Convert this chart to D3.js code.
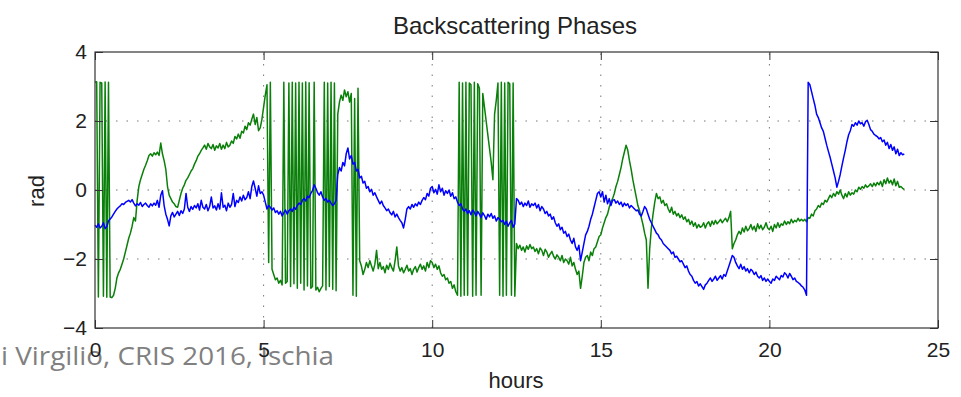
<!DOCTYPE html>
<html><head><meta charset="utf-8">
<script src="https://cdn.jsdelivr.net/npm/d3@7"></script>
<style>body{margin:0;background:#fff}svg{display:block}</style>
</head><body><svg id="c" width="961" height="397"></svg>
<script>
// Phase samples every 0.05 h, from 0 h to 24 h (one row per hour)
const bluePhase = [
-1.02,-1.08,-0.98,-1.10,-1.05,-0.95,-1.12,-1.06,-0.90,-0.84,-0.78,-0.70,-0.62,-0.55,-0.50,-0.46,-0.40,-0.42,-0.36,-0.33,
-0.30,-0.35,-0.28,-0.38,-0.46,-0.40,-0.44,-0.36,-0.48,-0.42,-0.38,-0.45,-0.50,-0.40,-0.46,-0.38,-0.44,-0.30,-0.50,-0.15,
-0.02,-0.45,-0.70,-0.85,-1.04,-0.75,-0.65,-0.78,-0.70,-0.62,-0.74,-0.60,-0.68,-0.55,-0.10,-0.50,-0.62,-0.48,-0.56,-0.45,
-0.52,-0.40,-0.58,-0.30,-0.50,-0.55,-0.42,-0.60,-0.48,-0.20,-0.52,-0.46,-0.58,-0.40,-0.55,-0.08,-0.50,-0.44,-0.60,-0.38,
-0.50,-0.42,-0.10,-0.48,-0.30,-0.36,-0.20,-0.32,-0.15,-0.28,-0.22,-0.05,-0.25,0.10,0.26,0.05,-0.18,0.12,-0.10,-0.05,
-0.15,-0.35,-0.55,-0.45,-0.50,-0.58,-0.52,-0.65,-0.60,-0.70,-0.62,-0.75,-0.66,-0.58,-0.70,-0.60,-0.55,-0.62,-0.50,-0.56,
-0.45,-0.38,-0.42,-0.30,-0.25,-0.32,-0.18,-0.22,-0.10,-0.02,0.15,0.05,-0.08,-0.15,-0.05,-0.20,-0.30,-0.25,-0.35,-0.30,
-0.38,-0.45,-0.40,-0.30,0.45,0.65,0.55,0.80,0.70,1.05,1.22,0.90,1.00,0.75,0.80,0.55,0.60,0.35,0.40,0.20,
0.25,0.05,0.10,-0.05,0.02,-0.15,-0.08,-0.20,-0.30,-0.40,-0.32,-0.45,-0.52,-0.60,-0.55,-0.66,-0.72,-0.62,-0.78,-0.70,
-0.80,-0.88,-0.95,-1.10,-0.85,-0.55,-0.48,-0.55,-0.42,-0.50,-0.40,-0.46,-0.35,-0.42,-0.30,-0.22,-0.28,-0.10,-0.18,0.05,
0.10,-0.08,0.02,-0.12,0.15,-0.05,0.05,-0.15,-0.02,-0.10,0.00,-0.18,-0.08,-0.25,-0.20,-0.35,-0.45,-0.40,-0.55,-0.62,
-0.55,-0.68,-0.60,-0.72,-0.58,-0.65,-0.75,-0.62,-0.70,-0.80,-0.66,-0.74,-0.85,-0.70,-0.78,-0.68,-0.82,-0.75,-0.90,-0.80,
-0.85,-0.92,-0.88,-1.00,-0.90,-1.05,-0.95,-0.88,-1.08,-0.98,-0.25,-0.30,-0.42,-0.35,-0.48,-0.38,-0.45,-0.32,-0.50,-0.40,
-0.45,-0.38,-0.52,-0.42,-0.60,-0.48,-0.55,-0.68,-0.62,-0.75,-0.70,-0.85,-0.78,-0.95,-1.05,-0.98,-1.15,-1.08,-1.25,-1.20,
-1.35,-1.28,-1.45,-1.55,-1.40,-1.65,-1.75,-1.60,-2.05,-1.80,-1.55,-1.30,-1.20,-1.05,-0.85,-0.70,-0.50,-0.30,-0.10,-0.05,
-0.20,-0.05,-0.35,-0.15,-0.40,-0.25,-0.45,-0.30,-0.28,-0.38,-0.32,-0.42,-0.35,-0.48,-0.38,-0.45,-0.40,-0.52,-0.45,-0.50,
-0.55,-0.60,-0.58,-0.70,-0.75,-0.62,-0.48,-0.55,-0.70,-0.85,-0.95,-1.05,-1.15,-1.25,-1.30,-1.40,-1.45,-1.55,-1.60,-1.65,
-1.70,-1.75,-1.85,-1.80,-1.95,-1.92,-2.00,-2.08,-2.05,-2.15,-2.25,-2.20,-2.35,-2.45,-2.50,-2.62,-2.70,-2.65,-2.78,-2.72,
-2.80,-2.88,-2.75,-2.70,-2.62,-2.55,-2.65,-2.58,-2.50,-2.62,-2.55,-2.48,-2.58,-2.45,-2.50,-2.35,-2.20,-2.05,-1.90,-1.95,
-2.10,-2.20,-2.28,-2.15,-2.30,-2.22,-2.35,-2.28,-2.40,-2.30,-2.35,-2.45,-2.38,-2.50,-2.55,-2.48,-2.62,-2.55,-2.65,-2.58,
-2.65,-2.70,-2.58,-2.62,-2.50,-2.55,-2.60,-2.48,-2.52,-2.40,-2.45,-2.55,-2.42,-2.50,-2.60,-2.55,-2.65,-2.68,-2.72,-2.78,
-2.82,-2.90,-3.05,3.12,3.05,2.85,2.65,2.45,2.20,2.10,1.95,1.80,1.70,1.50,1.30,1.12,0.95,0.75,0.55,0.35,
0.08,0.25,0.45,0.70,0.93,1.15,1.40,1.60,1.72,1.90,1.85,1.95,1.88,2.00,1.92,1.95,1.85,1.98,2.02,1.90,
1.75,1.70,1.62,1.58,1.55,1.48,1.52,1.40,1.45,1.30,1.38,1.20,1.32,1.15,1.25,1.05,1.18,1.00,1.08,1.02,
1.05
];
const greenPhase = [
3.12,3.14,-3.10,3.12,3.10,-3.08,3.13,-3.11,3.12,-3.10,-3.12,-3.05,-2.85,-2.55,-2.40,-2.30,-2.15,-2.00,-1.80,-1.60,
-1.40,-1.25,-1.05,-0.80,-0.90,-0.30,0.10,0.30,0.45,0.60,0.72,0.85,1.00,1.05,0.98,1.08,1.02,1.10,1.00,1.36,
1.05,0.85,0.60,0.10,-0.15,-0.25,-0.35,-0.40,-0.48,-0.50,-0.30,-0.10,0.05,0.15,0.28,0.35,0.45,0.55,0.62,0.75,
0.85,0.98,1.05,1.15,1.22,1.30,1.18,1.35,1.25,1.20,1.32,1.15,1.28,1.22,1.35,1.18,1.30,1.20,1.38,1.25,
1.30,1.42,1.35,1.55,1.48,1.62,1.50,1.70,1.65,1.85,1.75,1.95,1.88,2.05,2.20,1.90,2.10,1.72,1.80,2.05,
2.40,2.75,3.05,-2.10,3.12,-2.30,-2.45,-2.60,-2.55,-2.70,-2.62,-2.75,3.12,-2.70,-2.65,3.10,-2.80,3.12,-2.72,3.10,
-2.85,3.12,-2.70,3.10,-2.90,3.13,-2.78,3.11,-2.85,-2.80,3.12,-2.90,-2.82,-2.95,-2.85,-2.78,3.12,-2.90,3.10,-2.80,
3.12,-2.88,3.10,-2.92,2.20,2.55,2.75,2.60,2.90,2.70,2.85,2.55,2.80,-3.05,2.65,-3.08,2.95,-2.05,-2.20,-2.45,
-2.30,-2.10,-2.25,-2.05,-2.20,-2.35,-2.15,-1.75,-2.28,-2.10,-2.30,-2.22,-2.40,-2.18,-2.30,-2.12,-2.25,-2.35,-2.05,-1.65,
-2.20,-2.35,-2.25,-2.40,-2.30,-2.18,-2.35,-2.28,-2.45,-2.30,-2.22,-2.38,-2.25,-2.15,-2.30,-2.20,-2.35,-2.10,-2.25,-2.05,
-2.10,-2.25,-2.15,-2.30,-2.20,-2.40,-2.50,-2.45,-2.60,-2.55,-2.70,-2.65,-2.85,-2.75,-2.95,-3.05,3.12,-3.08,3.10,-3.05,
3.12,-3.05,3.10,3.05,-3.08,3.12,-3.05,3.08,2.95,-3.05,2.80,2.40,2.00,1.60,1.20,0.80,0.30,2.20,2.60,3.10,
-3.05,3.12,-3.08,3.10,-3.05,3.12,3.08,-3.05,3.10,-3.08,-1.55,-1.70,-1.60,-1.75,-1.65,-1.80,-1.62,-1.72,-1.58,-1.70,
-1.65,-1.78,-1.70,-1.85,-1.68,-1.75,-1.90,-1.72,-1.80,-1.95,-1.85,-1.78,-1.92,-2.00,-1.88,-1.95,-2.05,-1.90,-2.10,-2.00,
-2.05,-2.15,-1.95,-2.20,-2.10,-2.30,-2.45,-2.35,-2.85,-2.50,-2.10,-1.95,-1.90,-2.05,-1.80,-1.90,-1.70,-1.65,-1.50,-1.35,
-1.30,-1.10,-0.95,-0.80,-0.70,-0.50,-0.35,-0.25,-0.10,0.10,0.25,0.45,0.65,0.90,1.10,1.30,1.15,0.85,0.60,0.30,
0.05,-0.20,-0.45,-0.60,-0.80,-1.00,-1.25,-1.45,-2.85,-1.70,-1.10,-0.70,-0.35,-0.10,-0.25,-0.20,-0.38,-0.30,-0.45,-0.40,
-0.55,-0.65,-0.50,-0.70,-0.62,-0.75,-0.68,-0.80,-0.72,-0.85,-0.78,-0.92,-0.85,-1.00,-0.90,-1.05,-0.95,-1.10,-1.00,-1.08,
-1.05,-0.95,-1.10,-0.98,-0.92,-1.05,-0.90,-1.00,-0.88,-0.98,-0.92,-0.85,-0.95,-0.88,-0.82,-0.92,-0.80,-0.62,-1.70,-1.55,
-1.45,-1.30,-1.20,-1.28,-1.10,-1.22,-1.05,-1.18,-1.12,-1.00,-1.15,-1.05,-1.20,-0.98,-1.12,-1.02,-1.15,-1.08,-0.95,-1.10,
-1.15,-1.05,-1.20,-1.00,-1.10,-0.95,-1.08,-0.98,-1.02,-0.90,-1.00,-0.92,-0.98,-0.85,-0.95,-0.88,-0.92,-0.82,-0.90,-0.85,
-0.90,-0.85,-0.92,-0.80,-0.82,-0.70,-0.75,-0.60,-0.55,-0.45,-0.50,-0.38,-0.42,-0.30,-0.35,-0.25,-0.15,-0.22,-0.10,-0.18,
-0.05,-0.12,0.00,-0.15,-0.25,-0.10,-0.20,-0.05,-0.15,-0.08,-0.12,0.00,-0.05,0.08,0.02,0.10,0.05,0.15,0.08,0.12,
0.18,0.10,0.20,0.12,0.22,0.15,0.25,0.10,0.30,0.18,0.35,0.20,0.28,0.15,0.32,0.12,0.25,0.08,0.10,0.05,
0.02
];
const xTicks = [0, 5, 10, 15, 20, 25];
const yTicks = [-4, -2, 0, 2, 4];
const titleText = "Backscattering Phases";
const xLabelText = "hours";
const yLabelText = "rad";
const footerText = "i Virgilio, CRIS 2016, Ischia";
const sampleStep = 0.05; // hours between samples
const hours = bluePhase.map((_, i) => i * sampleStep);

const svg = d3.select("#c");
svg.append("rect").attr("width", 961).attr("height", 397).attr("fill", "#fff");
const font = "'Liberation Sans', Arial, Helvetica, sans-serif";
const L = 95, R = 938, T = 52, B = 328;
const x = d3.scaleLinear().domain([0, 25]).range([L, R]);
const y = d3.scaleLinear().domain([-4, 4]).range([B, T]);

// footer overlay text (behind the axis labels)
svg.append("text").attr("x", 1).attr("y", 365)
  .attr("font-family", "'Open Sans', 'Noto Sans', sans-serif").attr("font-size", 25)
  .attr("fill", "#808080").attr("textLength", 333).attr("lengthAdjust", "spacingAndGlyphs")
  .text(footerText);

// grid
const grid = svg.append("g").attr("stroke", "#777").attr("stroke-width", 1).attr("stroke-dasharray", "1.5,9");
grid.selectAll("line.v").data(xTicks.filter(d => d > 0 && d < 25)).join("line")
  .attr("x1", d => x(d)).attr("x2", d => x(d)).attr("y1", B).attr("y2", T);
grid.selectAll("line.h").data(yTicks.filter(d => d > -4 && d < 4)).join("line").attr("class", "h")
  .attr("x1", L).attr("x2", R).attr("y1", d => y(d)).attr("y2", d => y(d));

// series
const line = d3.line().x((d, i) => x(hours[i])).y(d => y(d));
svg.append("path").datum(greenPhase).attr("d", line).attr("fill", "none")
  .attr("stroke", "#0a800a").attr("stroke-width", 1.5).attr("stroke-linejoin", "round");
svg.append("path").datum(bluePhase).attr("d", line).attr("fill", "none")
  .attr("stroke", "#0000ff").attr("stroke-width", 1.5).attr("stroke-linejoin", "round");

// axes
function styleAxis(g) {
  g.select(".domain").remove();
  g.selectAll(".tick line").attr("stroke", "#333");
  g.selectAll("text").attr("font-family", font).attr("font-size", 21).attr("fill", "#222");
}
svg.append("g").attr("transform", `translate(0,${B})`)
  .call(d3.axisBottom(x).tickValues(xTicks).tickSizeInner(-8).tickSizeOuter(0).tickPadding(14).tickFormat(d3.format("d")))
  .call(styleAxis);
svg.append("g").attr("transform", `translate(${L},0)`)
  .call(d3.axisLeft(y).tickValues(yTicks).tickSizeInner(-8).tickSizeOuter(0).tickPadding(8).tickFormat(d3.format("d")))
  .call(styleAxis);
svg.append("g").attr("transform", `translate(0,${T})`)
  .call(d3.axisTop(x).tickValues(xTicks).tickSizeInner(-8).tickSizeOuter(0).tickFormat(""))
  .call(styleAxis);
svg.append("g").attr("transform", `translate(${R},0)`)
  .call(d3.axisRight(y).tickValues(yTicks).tickSizeInner(-8).tickSizeOuter(0).tickFormat(""))
  .call(styleAxis);

// frame
svg.append("rect").attr("x", L).attr("y", T).attr("width", R - L).attr("height", B - T)
  .attr("fill", "none").attr("stroke", "#333").attr("stroke-width", 1.2);

// titles
svg.append("text").attr("x", 515).attr("y", 34).attr("text-anchor", "middle")
  .attr("font-family", font).attr("font-size", 24).attr("fill", "#222").text(titleText);
svg.append("text").attr("x", 516).attr("y", 388).attr("text-anchor", "middle")
  .attr("font-family", font).attr("font-size", 22).attr("fill", "#222").text(xLabelText);
svg.append("text").attr("transform", "translate(44,191) rotate(-90)").attr("text-anchor", "middle")
  .attr("font-family", font).attr("font-size", 22).attr("fill", "#222").text(yLabelText);
</script></body></html>
